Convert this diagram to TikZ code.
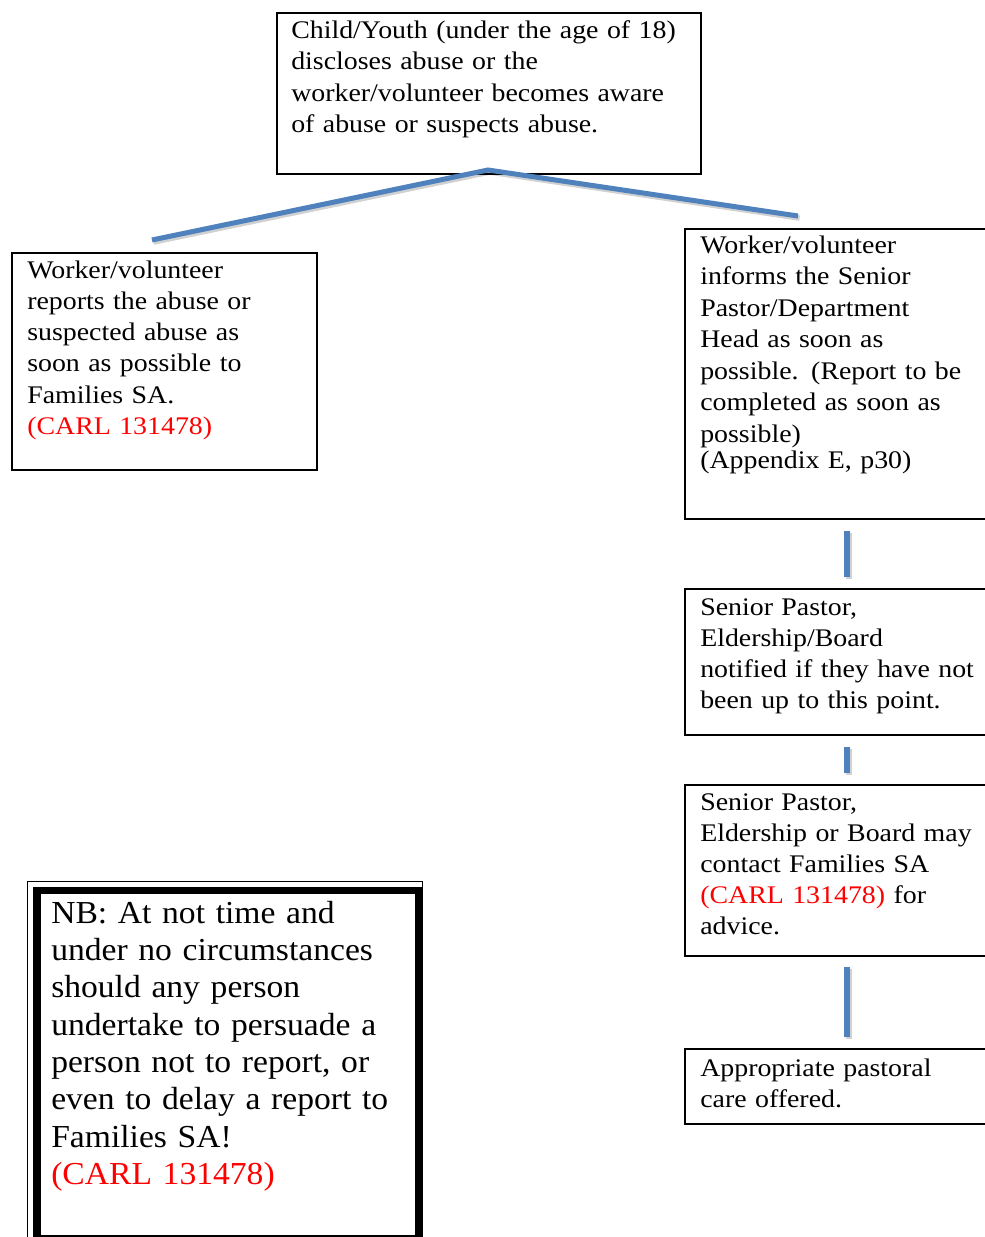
\documentclass[tikz,border=0pt]{standalone}
\usepackage{fontspec}
\setmainfont{Liberation Serif}
\newfontfamily\boxfont{Liberation Serif}[FakeStretch=1.1]
\newfontfamily\nbfont{Liberation Serif}[FakeStretch=1.05]
\usetikzlibrary{calc}
\definecolor{conblue}{HTML}{4F81BD}
\definecolor{txtred}{HTML}{FF0000}
\begin{document}
\begin{tikzpicture}[x=0.75pt,y=-0.75pt,
  boxframe/.style={draw=black,line width=1.5pt,inner sep=0pt,anchor=north west},
  txt/.style={anchor=base west,inner sep=0pt,text width=330pt,align=left,
    font=\boxfont\fontsize{19}{23.6}\selectfont},
  nbtxt/.style={anchor=base west,inner sep=0pt,text width=330pt,align=left,
    font=\nbfont\fontsize{24}{28}\selectfont},
  con/.style={draw=conblue,line width=3.75pt,line join=miter},
  vcon/.style={draw=conblue,line width=4.5pt},
  conshadow/.style={draw=black,opacity=0.18,line width=4pt,line join=miter}
]
\useasboundingbox (0,0) rectangle (984,1237);

% boxes
\node[boxframe,minimum width={424*0.75pt},minimum height={161*0.75pt}] (top) at (276,12) {};
\node[boxframe,minimum width={305*0.75pt},minimum height={217*0.75pt}] (left) at (11,252) {};
\node[boxframe,minimum width={320*0.75pt},minimum height={290*0.75pt}] (r1) at (684,228) {};
\node[boxframe,minimum width={320*0.75pt},minimum height={146*0.75pt}] (r2) at (684,588) {};
\node[boxframe,minimum width={320*0.75pt},minimum height={171*0.75pt}] (r3) at (684,784) {};
\node[boxframe,minimum width={320*0.75pt},minimum height={75*0.75pt}] (r4) at (684,1048) {};

% NB box (thick-thin border)
\node[draw=black,line width=0.9pt,inner sep=0pt,anchor=north west,
  minimum width={395*0.75pt},minimum height={361*0.75pt}] (nbout) at (26.5,880.5) {};
\node[draw=black,line width=5.8pt,inner sep=0pt,anchor=north west,
  minimum width={381.5*0.75pt},minimum height={348*0.75pt}] (nbin) at (33,886.7) {};

% texts
\node[txt] (topt) at (291,38.3) {Child/Youth (under the age of 18)\\
discloses abuse or the\\
worker/volunteer becomes aware\\
of abuse or suspects abuse.};

\node[txt,font=\boxfont\fontsize{19}{23.4}\selectfont] (leftt) at (27,278.3) {Worker/volunteer\\
reports the abuse or\\
suspected abuse as\\
soon as possible to\\
Families SA.\\
\textcolor{txtred}{(CARL 131478)}};

\node[txt] (r1t) at (700,253.3) {Worker/volunteer\\
informs the Senior\\
Pastor/Department\\
Head as soon as\\
possible. (Report to be\\
completed as soon as\\
possible)\\[-3.6pt]
(Appendix E, p30)};

\node[txt,font=\boxfont\fontsize{19}{23.3}\selectfont] (r2t) at (700,615) {Senior Pastor,\\
Eldership/Board\\
notified if they have not\\
been up to this point.};

\node[txt,font=\boxfont\fontsize{19}{23.3}\selectfont] (r3t) at (700,810) {Senior Pastor,\\
Eldership or Board may\\
contact Families SA\\
\textcolor{txtred}{(CARL 131478)} for\\
advice.};

\node[txt] (r4t) at (700,1076) {Appropriate pastoral\\
care offered.};

\node[nbtxt] (nbt) at (51,923) {NB: At not time and\\
under no circumstances\\
should any person\\
undertake to persuade a\\
person not to report, or\\
even to delay a report to\\
Families SA!\\
\textcolor{txtred}{(CARL 131478)}};

% connector coordinates
\coordinate (peak) at ($(top.south)+(-1,-5)$);
\coordinate (lend) at ($(left.north)+(-12.5,-12)$);
\coordinate (rend) at ($(r1.north west)+(114,-12)$);
\coordinate (v1a) at ($(r1.south west)+(163,11)$);
\coordinate (v1b) at ($(r2.north west)+(163,-11)$);
\coordinate (v2a) at ($(r2.south west)+(163,11)$);
\coordinate (v2b) at ($(r3.north west)+(163,-11)$);
\coordinate (v3a) at ($(r3.south west)+(163,10)$);
\coordinate (v3b) at ($(r4.north west)+(163,-11)$);

% shadows
\begin{scope}[transform canvas={shift={(1.2pt,-1.6pt)}}]
\draw[conshadow] (lend) -- (peak) -- (rend);
\draw[conshadow,line width=4.6pt] (v1a) -- (v1b);
\draw[conshadow,line width=4.6pt] (v2a) -- (v2b);
\draw[conshadow,line width=4.6pt] (v3a) -- (v3b);
\end{scope}

% connectors
\draw[con] (lend) -- (peak) -- (rend);
\draw[vcon] (v1a) -- (v1b);
\draw[vcon] (v2a) -- (v2b);
\draw[vcon] (v3a) -- (v3b);
\end{tikzpicture}
\end{document}
